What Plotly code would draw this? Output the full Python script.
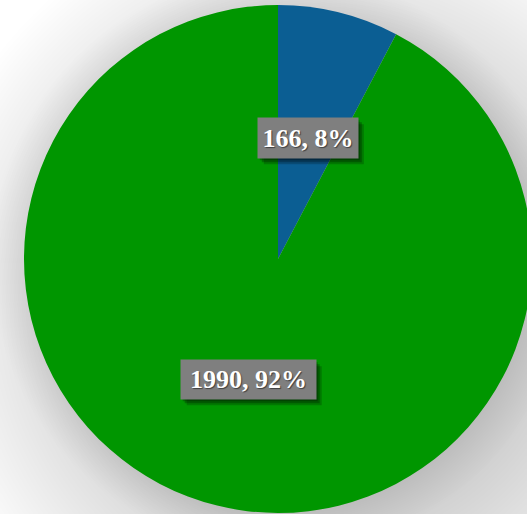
import math
import plotly.graph_objects as go

# Data
categories = ["A", "B"]
values = [166, 1990]
colors = ["#0b5e93", "#009600"]

# Canvas (slightly larger than the visible window so the pie bleeds off the right/bottom edges)
W, H = 540, 520
CX, CY, R = 278, 259, 254  # pie centre / radius in px (from top-left)


def px_x(x):
    return x / W


def px_y(y):
    return 1 - y / H


fig = go.Figure(
    go.Pie(
        labels=categories,
        values=values,
        marker=dict(colors=colors, line=dict(width=0)),
        sort=False,
        direction="clockwise",
        rotation=0,
        textinfo="none",
        hoverinfo="label+value+percent",
        showlegend=False,
        domain=dict(x=[px_x(CX - R), px_x(CX + R)], y=[px_y(CY + R), px_y(CY - R)]),
    )
)

shapes = []


def soft_circle(cx, cy, r_start, r_end, step, alpha):
    r = r_start
    while r <= r_end:
        shapes.append(dict(
            type="circle", xref="paper", yref="paper", layer="below",
            x0=px_x(cx - r), x1=px_x(cx + r), y0=px_y(cy + r), y1=px_y(cy - r),
            fillcolor=f"rgba(0,0,0,{alpha})", line=dict(width=0),
        ))
        r += step


# soft drop shadow behind the pie
soft_circle(CX + 3, CY + 3, 250, 290, 2, 0.0055)
soft_circle(CX + 45, CY + 45, 230, 410, 4, 0.002)

# data labels: "value, percent" boxes placed along each slice's mid-angle
total = sum(values)
box_sizes = [(100, 40), (135, 39)]
annotations = []
start = 0.0
for v, (bw, bh) in zip(values, box_sizes):
    frac = v / total
    mid = (start + frac / 2) * 2 * math.pi
    start += frac
    lx = CX + 0.49 * R * math.sin(mid)
    ly = CY - 0.49 * R * math.cos(mid)
    # box shadow
    for off, a in [(2, 0.25), (4, 0.25), (6, 0.2)]:
        shapes.append(dict(
            type="rect", xref="paper", yref="paper", layer="above",
            x0=px_x(lx - bw / 2 + off), x1=px_x(lx + bw / 2 + off),
            y0=px_y(ly + bh / 2 + off), y1=px_y(ly - bh / 2 + off),
            fillcolor=f"rgba(0,0,0,{a})", line=dict(width=0),
        ))
    annotations.append(dict(
        x=px_x(lx), y=px_y(ly), xref="paper", yref="paper",
        xanchor="center", yanchor="middle", showarrow=False,
        text=f"{v}, {round(frac * 100)}%",
        width=bw, height=bh, bgcolor="#7f7f7f", borderpad=0,
        font=dict(family="Liberation Serif", size=26, color="white", weight=700,
                  shadow="1px 1px 1px rgba(0,0,0,0.5)"),
    ))

fig.update_layout(
    width=W, height=H,
    margin=dict(l=0, r=0, t=0, b=0),
    paper_bgcolor="white",
    shapes=shapes,
    annotations=annotations,
)

fig.write_html("out.html", post_script="document.body.style.overflow='hidden';")
